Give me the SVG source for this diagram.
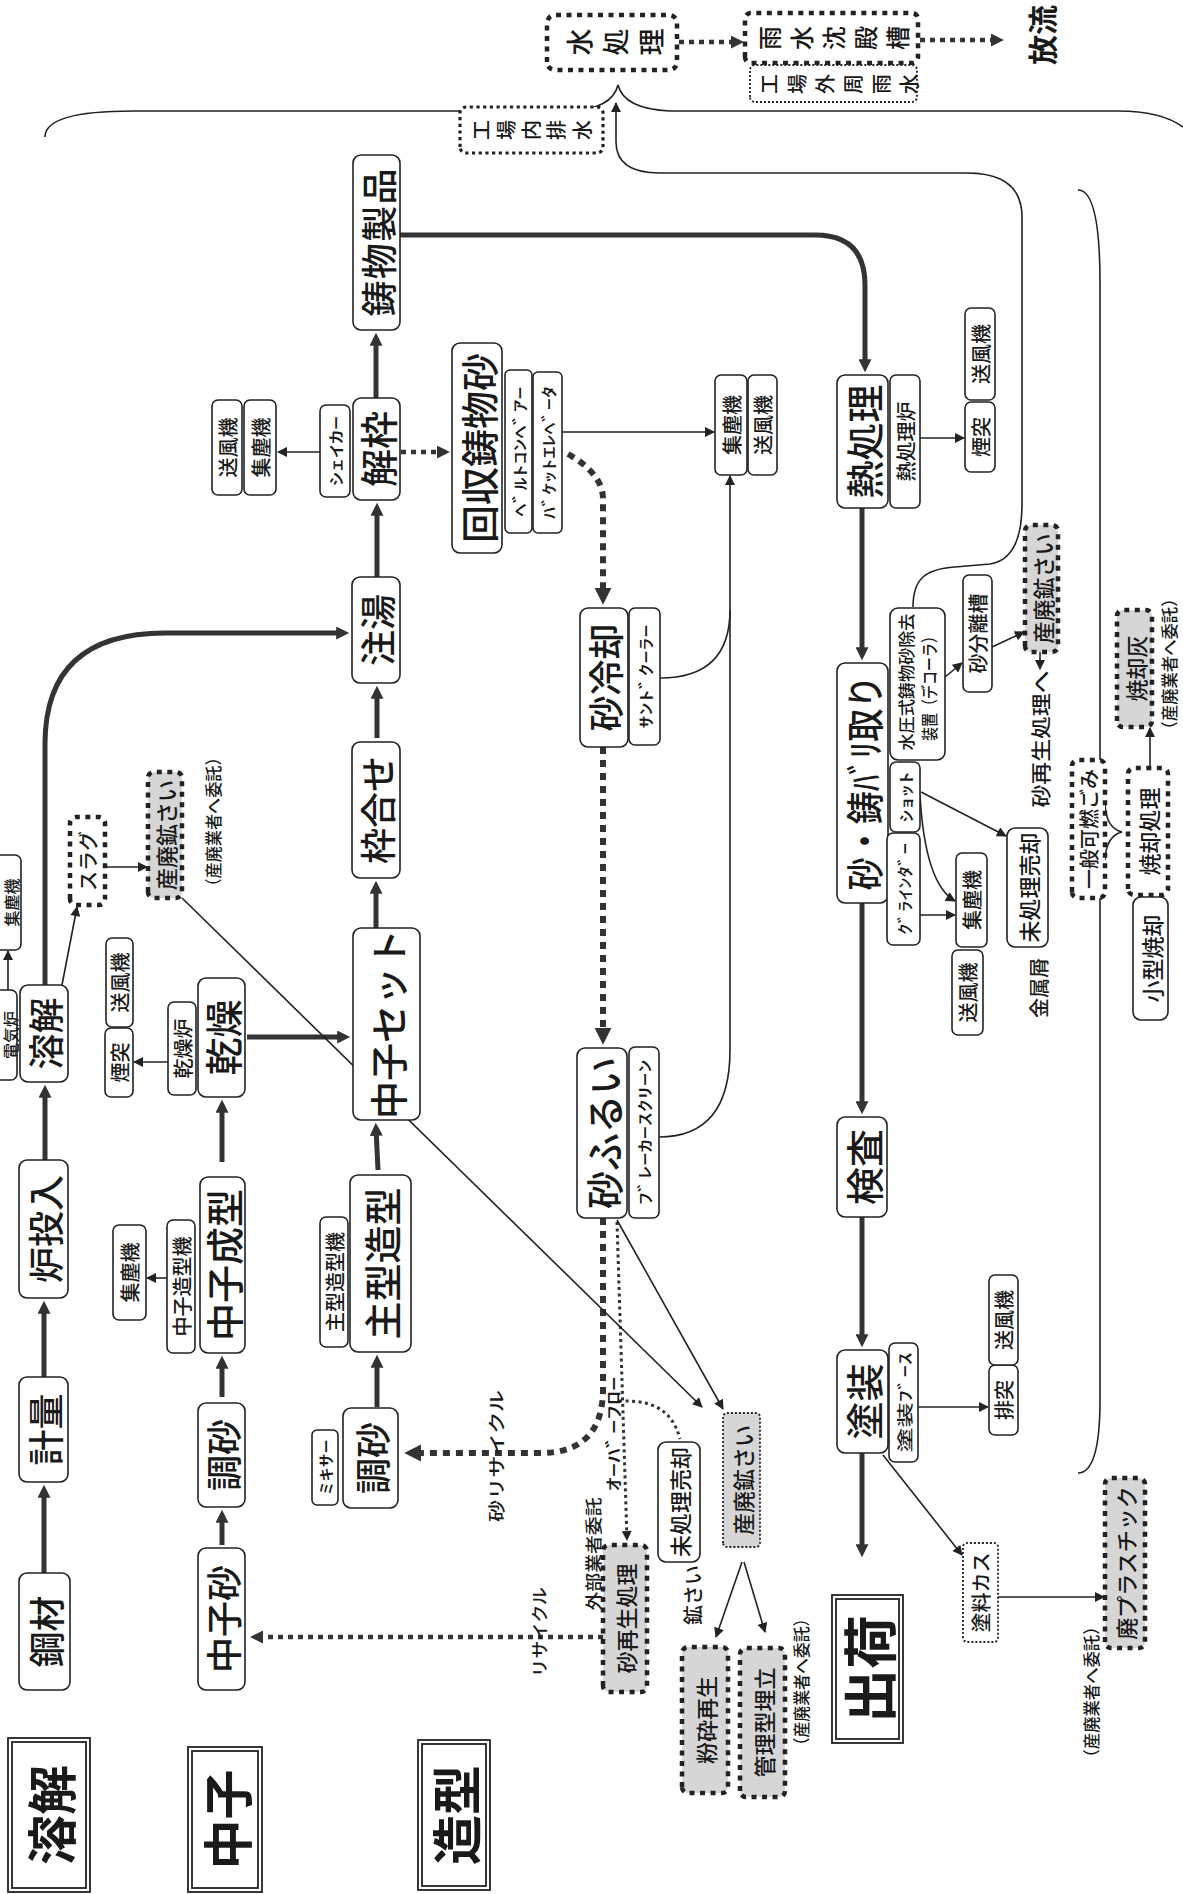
<svg xmlns="http://www.w3.org/2000/svg" width="1183" height="1894" viewBox="0 0 1183 1894">
<style>
.b{fill:#fff;stroke:#222;stroke-width:1.6}
.d{fill:#fff;stroke:#222;stroke-width:4.5;stroke-dasharray:5 5.5}
.dg{fill:#d6d6d6;stroke:#222;stroke-width:4.5;stroke-dasharray:5 5.5}
.md{fill:#fff;stroke:#222;stroke-width:3.2;stroke-dasharray:3.2 3.5}
.td{fill:#fff;stroke:#222;stroke-width:1.8;stroke-dasharray:2 2}
.tdg{fill:#d6d6d6;stroke:#222;stroke-width:1.8;stroke-dasharray:2 2}
.lb{fill:#fff;stroke:#222;stroke-width:1.8}
text{font-family:"Noto Sans CJK JP","Noto Sans CJK SC",sans-serif;fill:#1a1a1a;text-anchor:middle;dominant-baseline:central}
.f38{font-size:38px;font-weight:500}
.f36{font-size:36px;font-weight:500}
.f22{font-size:22px;font-weight:500}
.f20{font-size:20px;font-weight:500}
.f17{font-size:17px;font-weight:500}
.f16{font-size:16px;font-weight:500}
.lbl{font-size:50px;font-weight:700}
.thick{fill:none;stroke:#333;stroke-width:5}
.thin{fill:none;stroke:#222;stroke-width:1.6}
.tdot{fill:none;stroke:#333;stroke-width:6;stroke-dasharray:7 6}
.mdot{fill:none;stroke:#333;stroke-width:4.5;stroke-dasharray:5 5}
.sdot{fill:none;stroke:#333;stroke-width:3;stroke-dasharray:3 3.5}
</style>
<defs>
<marker id="ak" viewBox="0 0 10 10" refX="6" refY="5" markerWidth="14" markerHeight="13" markerUnits="userSpaceOnUse" orient="auto"><path d="M0,0 L10,5 L0,10 z" fill="#333"/></marker>
<marker id="at" viewBox="0 0 10 10" refX="9" refY="5" markerWidth="11" markerHeight="10" markerUnits="userSpaceOnUse" orient="auto"><path d="M0,0 L10,5 L0,10 z" fill="#222"/></marker>
<marker id="ad" viewBox="0 0 10 10" refX="6" refY="5" markerWidth="17" markerHeight="19" markerUnits="userSpaceOnUse" orient="auto"><path d="M0,0 L10,5 L0,10 z" fill="#333"/></marker>
<marker id="am" viewBox="0 0 10 10" refX="7" refY="5" markerWidth="13" markerHeight="13" markerUnits="userSpaceOnUse" orient="auto"><path d="M0,0 L10,5 L0,10 z" fill="#333"/></marker>
</defs>
<g transform="translate(0,1894) rotate(-90)">
<g id="connectors">
<path class="thick" marker-end="url(#ak)" d="M321 44 L404 44"/>
<path class="thick" marker-end="url(#ak)" d="M517 44 L588 44"/>
<path class="thick" marker-end="url(#ak)" d="M734 45 L804 45"/>
<path class="thick" marker-end="url(#ak)" d="M909 45 L1150 45 Q1261 45 1261 165 L1261 344"/>
<path class="thick" marker-end="url(#ak)" d="M857 247 L857 345"/>
<path class="thick" marker-end="url(#ak)" d="M732 222 L789 222"/>
<path class="thick" marker-end="url(#ak)" d="M497 222 L533 222"/>
<path class="thick" marker-end="url(#ak)" d="M349 222 L379 222"/>
<path class="thick" marker-end="url(#ak)" d="M487 377 L534 377"/>
<path class="thick" marker-end="url(#ak)" d="M724 378 L766 376"/>
<path class="thick" marker-end="url(#ak)" d="M964 376 L1008 376"/>
<path class="thick" marker-end="url(#ak)" d="M1156 377 L1203 377"/>
<path class="thick" marker-end="url(#ak)" d="M1317 377 L1386 377"/>
<path class="thick" marker-end="url(#ak)" d="M1496 376 L1556 376"/>
<path class="thick" marker-end="url(#ak)" d="M1659 400 L1659 815 Q1659 865 1609 865 L1527 865"/>
<path class="thick" marker-end="url(#ak)" d="M1386 862 L1239 862"/>
<path class="thick" marker-end="url(#ak)" d="M991 862 L785 862"/>
<path class="thick" marker-end="url(#ak)" d="M677 862 L552 862"/>
<path class="thick" marker-end="url(#ak)" d="M441 862 L342 862"/>
<path class="tdot" marker-end="url(#ad)" d="M1440 568 Q1420 603 1395 603 L1296 603"/>
<path class="tdot" marker-end="url(#ad)" d="M1147 603 L856 603"/>
<path class="tdot" marker-end="url(#ad)" d="M676 603 L505 603 Q441 603 441 540 L441 411"/>
<path class="mdot" marker-end="url(#am)" d="M257 603 L257 254"/>
<path class="mdot" marker-end="url(#am)" d="M1442 401 L1442 446"/>
<path class="mdot" marker-end="url(#am)" d="M1852 679 L1852 740"/>
<path class="mdot" marker-end="url(#am)" d="M1854 920 L1854 1000"/>
<path class="sdot" marker-end="url(#at)" d="M672 617 L354 627"/>
<path class="sdot" d="M493 619 C494 650 486 672 455 680"/>
<path class="thin" marker-end="url(#at)" d="M1442 320 L1442 278"/>
<path class="thin" marker-end="url(#at)" d="M904 8 L943 8"/>
<path class="thin" marker-end="url(#at)" d="M909 62 L987 77"/>
<path class="thin" marker-end="url(#at)" d="M1027 105 L1027 147"/>
<path class="thin" marker-end="url(#at)" d="M832 168 L832 134"/>
<path class="thin" marker-end="url(#at)" d="M616 167 L616 147"/>
<path class="thin" marker-end="url(#at)" d="M996 182 L487 702"/>
<path class="thin" marker-end="url(#at)" d="M674 617 L485 723"/>
<path class="thin" marker-end="url(#at)" d="M332 742 L257 716"/>
<path class="thin" marker-end="url(#at)" d="M332 744 L262 765"/>
<path class="thin" marker-end="url(#at)" d="M1462 562 L1462 714"/>
<path class="thin" marker-end="url(#at)" d="M757 659 Q757 730 844 730 L1418 730"/>
<path class="thin" d="M1216 660 Q1216 730 1284 730"/>
<path class="thin" marker-end="url(#at)" d="M1456 920 L1456 964"/>
<path class="thin" marker-end="url(#at)" d="M1217 945 L1231 962"/>
<path class="thin" marker-end="url(#at)" d="M1247 992 L1262 1024"/>
<path class="thin" marker-end="url(#at)" d="M1242 1040 L1225 1040"/>
<path class="thin" marker-end="url(#at)" d="M979 920 L979 955"/>
<path class="thin" marker-end="url(#at)" d="M1099 920 Q1010 925 993 955"/>
<path class="thin" marker-end="url(#at)" d="M1102 921 L1058 1006"/>
<path class="thin" marker-end="url(#at)" d="M487 918 L487 988"/>
<path class="thin" marker-end="url(#at)" d="M439 883 L339 962"/>
<path class="thin" marker-end="url(#at)" d="M297 998 L297 1104"/>
<path class="thin" marker-end="url(#at)" d="M1126 1150 L1166 1150"/>
<path class="thin" marker-end="url(#at)" d="M1287 913 C1315 913 1325 925 1327 955 L1330 990 C1333 1010 1350 1022 1390 1022 L1677 1022 Q1721 1022 1721 967 L1721 660 Q1721 616 1752 616 L1791 616"/>
<path class="thin" d="M1757 45 Q1783 45 1783 133 L1783 570 Q1785 612 1809 618 Q1785 624 1783 670 L1783 1113 Q1784 1160 1767 1183"/>
<path class="thin" d="M1704 1078 Q1704 1100 1611 1100 L1134 1100 M996 1100 L494 1100 Q421 1100 421 1078"/>
<path class="thin" d="M1090 1105 Q1066 1106 1062 1122 Q1058 1106 1034 1105"/>
</g>

<g id="lbl-yokai"><rect class="lb" x="2" y="8" width="154" height="82"/><rect class="lb" x="6" y="12" width="146" height="74"/><text class="lbl" x="79" y="49">溶解</text></g>
<g id="lbl-nakago"><rect class="lb" x="2" y="188" width="145" height="74"/><rect class="lb" x="6" y="192" width="137" height="66"/><text class="lbl" x="74.5" y="225">中子</text></g>
<g id="lbl-zokei"><rect class="lb" x="4" y="418" width="150" height="72"/><rect class="lb" x="8" y="422" width="142" height="64"/><text class="lbl" x="79" y="454">造型</text></g>
<g id="lbl-shukka"><rect class="lb" x="151" y="832" width="148" height="71"/><rect class="lb" x="155" y="836" width="140" height="63"/><text class="lbl" x="225" y="867.5" style="font-size:54px">出荷</text></g>

<g id="n-kozai"><rect class="b" x="204" y="19" width="117" height="51" rx="8"/><text class="f36" x="262.5" y="44.5">鋼材</text></g>
<g id="n-keiryo"><rect class="b" x="412" y="19" width="105" height="49" rx="8"/><text class="f36" x="464.5" y="43.5">計量</text></g>
<g id="n-rotonyu"><rect class="b" x="596" y="19" width="138" height="49" rx="8"/><text class="f36" x="665" y="43.5">炉投入</text></g>
<g id="n-yokai"><rect class="b" x="812" y="20" width="97" height="48" rx="8"/><text class="f36" x="860.5" y="44">溶解</text></g>
<g id="n-denkiro"><rect class="b" x="814" y="-12" width="90" height="29" rx="6"/><text class="f16" x="859" y="9.5">電気炉</text></g>
<g id="n-shujin1"><rect class="b" x="944" y="-12" width="95" height="33" rx="6"/><text class="f16" x="991.5" y="10.5">集塵機</text></g>
<g id="n-slag"><rect class="d" x="989" y="70" width="88" height="35" rx="6"/><text class="f20" x="1033" y="87.5">スラグ</text></g>
<g id="n-sanpai1"><rect class="dg" x="996" y="148" width="126" height="34" rx="6"/><text class="f22" x="1059" y="165">産廃鉱さい</text></g>
<text class="f17" x="1072" y="212" textLength="145" lengthAdjust="spacingAndGlyphs">（産廃業者へ委託）</text>

<g id="n-nakagosuna"><rect class="b" x="204" y="198" width="142" height="47" rx="8"/><text class="f36" x="275" y="221.5">中子砂</text></g>
<g id="n-chosa1"><rect class="b" x="387" y="198" width="104" height="47" rx="8"/><text class="f36" x="439" y="221.5">調砂</text></g>
<g id="n-nakagoseikei"><rect class="b" x="541" y="200" width="176" height="45" rx="8"/><text class="f38" x="629" y="222.5">中子成型</text></g>
<g id="n-nakagozokeiki"><rect class="b" x="541" y="167" width="133" height="28" rx="6"/><text class="f20" x="607.5" y="181">中子造型機</text></g>
<g id="n-shujin2"><rect class="b" x="574" y="113" width="95" height="33" rx="6"/><text class="f20" x="621.5" y="129.5">集塵機</text></g>
<g id="n-kanso"><rect class="b" x="797" y="198" width="119" height="47" rx="8"/><text class="f38" x="856.5" y="221.5">乾燥</text></g>
<g id="n-kansoro"><rect class="b" x="799" y="168" width="93" height="28" rx="6"/><text class="f20" x="845.5" y="182">乾燥炉</text></g>
<g id="n-entotsu1"><rect class="b" x="797" y="105" width="69" height="28" rx="6"/><text class="f20" x="831.5" y="119">煙突</text></g>
<g id="n-sofuki1"><rect class="b" x="867" y="106" width="89" height="27" rx="6"/><text class="f20" x="911.5" y="119.5">送風機</text></g>

<g id="n-chosa2"><rect class="b" x="386" y="343" width="100" height="55" rx="8"/><text class="f36" x="436" y="370.5">調砂</text></g>
<g id="n-mixer"><rect class="b" x="389" y="312" width="75" height="26" rx="5"/><text class="f16" x="426.5" y="325" textLength="56" lengthAdjust="spacingAndGlyphs">ﾐｷｻｰ</text></g>
<g id="n-omogata"><rect class="b" x="542" y="350" width="177" height="61" rx="8"/><text class="f38" x="630.5" y="380.5">主型造型</text></g>
<g id="n-omogataki"><rect class="b" x="547" y="320" width="130" height="28" rx="6"/><text class="f20" x="612" y="334">主型造型機</text></g>
<g id="n-nakagoset"><rect class="b" x="774" y="353" width="192" height="67" rx="8"/><text class="f38" x="870" y="386.5">中子セット</text></g>
<g id="n-wakaawase"><rect class="b" x="1016" y="352" width="136" height="48" rx="8"/><text class="f36" x="1084" y="376">枠合せ</text></g>
<g id="n-chuto"><rect class="b" x="1211" y="352" width="106" height="48" rx="8"/><text class="f36" x="1264" y="376">注湯</text></g>
<g id="n-kaiwaku"><rect class="b" x="1394" y="353" width="102" height="47" rx="8"/><text class="f38" x="1445" y="376.5">解枠</text></g>
<g id="n-shaker"><rect class="b" x="1397" y="320" width="92" height="30" rx="6"/><text class="f16" x="1443" y="335" textLength="70" lengthAdjust="spacingAndGlyphs">ｼｪｲｶｰ</text></g>
<g id="n-sofuki2"><rect class="b" x="1399" y="212" width="95" height="30" rx="6"/><text class="f20" x="1446.5" y="227">送風機</text></g>
<g id="n-shujin3"><rect class="b" x="1399" y="244" width="95" height="32" rx="6"/><text class="f20" x="1446.5" y="260">集塵機</text></g>
<g id="n-imono"><rect class="b" x="1564" y="353" width="175" height="47" rx="8"/><text class="f36" x="1651.5" y="376.5" textLength="148">鋳物製品</text></g>

<g id="n-kaishu"><rect class="b" x="1341" y="452" width="210" height="50" rx="8"/><text class="f38" x="1446" y="477">回収鋳物砂</text></g>
<g id="n-belt"><rect class="b" x="1361" y="505" width="163" height="27" rx="5"/><text class="f16" x="1442.5" y="518.5" textLength="130" lengthAdjust="spacingAndGlyphs">ﾍﾞﾙﾄｺﾝﾍﾞｱｰ</text></g>
<g id="n-bucket"><rect class="b" x="1361" y="533" width="161" height="29" rx="5"/><text class="f16" x="1441.5" y="547.5" textLength="133" lengthAdjust="spacingAndGlyphs">ﾊﾞｹｯﾄｴﾚﾍﾞｰﾀ</text></g>
<g id="n-shujin4"><rect class="b" x="1419" y="715" width="100" height="32" rx="6"/><text class="f20" x="1469" y="731">集塵機</text></g>
<g id="n-sofuki3"><rect class="b" x="1419" y="748" width="100" height="29" rx="6"/><text class="f20" x="1469" y="762.5">送風機</text></g>
<g id="n-sunareikyaku"><rect class="b" x="1147" y="580" width="139" height="48" rx="8"/><text class="f36" x="1216.5" y="604">砂冷却</text></g>
<g id="n-sandcooler"><rect class="b" x="1149" y="629" width="137" height="31" rx="6"/><text class="f16" x="1217.5" y="644.5" textLength="104" lengthAdjust="spacingAndGlyphs">ｻﾝﾄﾞｸｰﾗｰ</text></g>
<g id="n-sunafurui"><rect class="b" x="676" y="577" width="170" height="50" rx="8"/><text class="f38" x="761" y="602">砂ふるい</text></g>
<g id="n-breaker"><rect class="b" x="676" y="629" width="171" height="30" rx="6"/><text class="f16" x="761.5" y="644" textLength="146" lengthAdjust="spacingAndGlyphs">ﾌﾞﾚｰｶｰｽｸﾘｰﾝ</text></g>

<text class="f17" x="438" y="495" textLength="132" lengthAdjust="spacingAndGlyphs">砂リサイクル</text>
<text class="f17" x="460" y="612" textLength="115" lengthAdjust="spacingAndGlyphs">ｵｰﾊﾞｰﾌﾛｰ</text>
<text class="f17" x="340" y="592" textLength="113" lengthAdjust="spacingAndGlyphs">外部業者委託</text>
<text class="f17" x="262" y="538" textLength="90" lengthAdjust="spacingAndGlyphs">リサイクル</text>
<text class="f20" x="299" y="692">鉱さい</text>

<g id="n-sunasaisei"><rect class="dg" x="202" y="603" width="147" height="44" rx="6"/><text class="f22" x="275.5" y="625">砂再生処理</text></g>
<g id="n-mishori1"><rect class="b" x="332" y="658" width="120" height="42" rx="8"/><text class="f22" x="392" y="679">未処理売却</text></g>
<g id="n-sanpai2"><rect class="tdg" x="347" y="723" width="134" height="37" rx="4"/><text class="f22" x="414" y="741.5">産廃鉱さい</text></g>
<g id="n-funsai"><rect class="dg" x="101" y="682" width="146" height="46" rx="6"/><text class="f22" x="174" y="705">粉砕再生</text></g>
<g id="n-kanri"><rect class="dg" x="97" y="740" width="149" height="45" rx="6"/><text class="f22" x="171.5" y="762.5">管理型埋立</text></g>
<text class="f17" x="212" y="800" textLength="143" lengthAdjust="spacingAndGlyphs">（産廃業者へ委託）</text>

<g id="n-netsu"><rect class="b" x="1386" y="837" width="133" height="51" rx="8"/><text class="f38" x="1452.5" y="862.5">熱処理</text></g>
<g id="n-netsuro"><rect class="b" x="1386" y="890" width="133" height="30" rx="6"/><text class="f20" x="1452.5" y="905">熱処理炉</text></g>
<g id="n-entotsu2"><rect class="b" x="1422" y="965" width="70" height="30" rx="6"/><text class="f20" x="1457" y="980">煙突</text></g>
<g id="n-sofuki4"><rect class="b" x="1494" y="965" width="92" height="30" rx="6"/><text class="f20" x="1540" y="980">送風機</text></g>
<g id="n-bari"><rect class="b" x="991" y="837" width="240" height="51" rx="8"/><text class="f38" x="1111" y="862.5" textLength="215" lengthAdjust="spacingAndGlyphs">砂・鋳ﾊﾞﾘ取り</text></g>
<g id="n-decora"><rect class="b" x="1134" y="890" width="152" height="55" rx="8"/><text class="f17" x="1212" y="905" textLength="137" lengthAdjust="spacingAndGlyphs">水圧式鋳物砂除去</text><text class="f17" x="1209" y="928" textLength="112" lengthAdjust="spacingAndGlyphs">装置（デコーラ）</text></g>
<g id="n-shot"><rect class="b" x="1062" y="890" width="70" height="30" rx="6"/><text class="f16" x="1097" y="905" textLength="51" lengthAdjust="spacingAndGlyphs">ｼｮｯﾄ</text></g>
<g id="n-grinder"><rect class="b" x="949" y="887" width="112" height="33" rx="6"/><text class="f16" x="1005" y="903.5" textLength="92" lengthAdjust="spacingAndGlyphs">ｸﾞﾗｲﾝﾀﾞｰ</text></g>
<g id="n-shujin5"><rect class="b" x="947" y="956" width="94" height="31" rx="6"/><text class="f20" x="994" y="971.5">集塵機</text></g>
<g id="n-sofuki5"><rect class="b" x="859" y="952" width="85" height="31" rx="6"/><text class="f20" x="901.5" y="967.5">送風機</text></g>
<g id="n-mishori2"><rect class="b" x="947" y="1007" width="119" height="41" rx="8"/><text class="f22" x="1006.5" y="1027.5">未処理売却</text></g>
<text class="f20" x="906" y="1038">金属屑</text>
<g id="n-bunri"><rect class="b" x="1202" y="963" width="117" height="29" rx="6"/><text class="f20" x="1260.5" y="977.5">砂分離槽</text></g>
<g id="n-sanpai3"><rect class="dg" x="1242" y="1025" width="127" height="33" rx="6"/><text class="f22" x="1305.5" y="1041.5">産廃鉱さい</text></g>
<text class="f20" x="1155" y="1040" textLength="137" lengthAdjust="spacingAndGlyphs">砂再生処理へ</text>
<g id="n-ippan"><rect class="d" x="996" y="1072" width="138" height="33" rx="6"/><text class="f20" x="1065" y="1088.5">一般可燃ごみ</text></g>
<g id="n-shokyaku"><rect class="d" x="999" y="1128" width="127" height="40" rx="6"/><text class="f22" x="1062.5" y="1148">焼却処理</text></g>
<g id="n-kogata"><rect class="b" x="874" y="1133" width="123" height="35" rx="8"/><text class="f22" x="935.5" y="1150.5">小型焼却</text></g>
<g id="n-shokyakubai"><rect class="dg" x="1167" y="1117" width="117" height="35" rx="6"/><text class="f22" x="1225.5" y="1134.5">焼却灰</text></g>
<text class="f17" x="1230" y="1168" textLength="147" lengthAdjust="spacingAndGlyphs">（産廃業者へ委託）</text>

<g id="n-kensa"><rect class="b" x="677" y="837" width="100" height="50" rx="8"/><text class="f38" x="727" y="862">検査</text></g>
<g id="n-toso"><rect class="b" x="441" y="837" width="103" height="51" rx="8"/><text class="f38" x="492.5" y="862.5">塗装</text></g>
<g id="n-tosobooth"><rect class="b" x="432" y="889" width="119" height="29" rx="6"/><text class="f16" x="491.5" y="903.5" textLength="100" lengthAdjust="spacingAndGlyphs">塗装ﾌﾞｰｽ</text></g>
<g id="n-haitotsu"><rect class="b" x="459" y="989" width="70" height="29" rx="6"/><text class="f20" x="494" y="1003.5">排突</text></g>
<g id="n-sofuki6"><rect class="b" x="529" y="989" width="90" height="29" rx="6"/><text class="f20" x="574" y="1003.5">送風機</text></g>
<g id="n-toryo"><rect class="td" x="252" y="963" width="99" height="35" rx="4"/><text class="f20" x="301.5" y="980.5">塗料カス</text></g>
<g id="n-haipura"><rect class="dg" x="246" y="1105" width="170" height="40" rx="6"/><text class="f22" x="331" y="1125">廃プラスチック</text></g>
<text class="f17" x="202" y="1090" textLength="147" lengthAdjust="spacingAndGlyphs">（産廃業者へ委託）</text>

<g id="n-kojonai"><rect class="md" x="1741" y="460" width="46" height="143" rx="6"/><text class="f20"><tspan x="1764" y="480">工</tspan><tspan x="1764" y="505">場</tspan><tspan x="1764" y="530">内</tspan><tspan x="1764" y="555">排</tspan><tspan x="1764" y="581">水</tspan></text></g>
<g id="n-mizushori"><rect class="d" x="1824" y="547" width="55" height="130" rx="8"/><text style="font-size:27px;font-weight:500"><tspan x="1852" y="578">水</tspan><tspan x="1852" y="614">処</tspan><tspan x="1852" y="650">理</tspan></text></g>
<g id="n-usui"><rect class="d" x="1831" y="745" width="50" height="173" rx="6"/><text style="font-size:24px;font-weight:500"><tspan x="1856" y="768">雨</tspan><tspan x="1856" y="800">水</tspan><tspan x="1856" y="832">沈</tspan><tspan x="1856" y="864">殿</tspan><tspan x="1856" y="896">槽</tspan></text></g>
<g id="n-gaishu"><rect class="td" x="1792" y="750" width="37" height="167" rx="5"/><text class="f20"><tspan x="1810" y="768">工</tspan><tspan x="1810" y="796">場</tspan><tspan x="1810" y="824">外</tspan><tspan x="1810" y="852">周</tspan><tspan x="1810" y="880">雨</tspan><tspan x="1810" y="908">水</tspan></text></g>
<text x="1859" y="1041" style="font-size:30px;font-weight:700">放流</text>
</g>
</svg>
